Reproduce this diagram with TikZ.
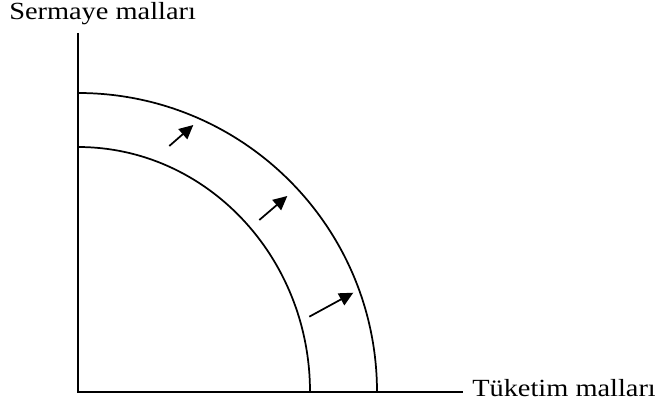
\documentclass[tikz,border=0pt]{standalone}
\usepackage{fontspec}
\setmainfont[FakeStretch=1.15]{Liberation Serif}
\usetikzlibrary{arrows.meta}
\begin{document}
\begin{tikzpicture}[x=0.75pt,y=0.75pt,
  axis/.style={line width=1.4pt},
  curve/.style={line width=1.3pt},
  shiftarrow/.style={line width=1.3pt,-{Triangle[length=10.5pt,width=10pt]}},
  lbl/.style={inner sep=0pt,font=\fontsize{18.5}{20}\selectfont}]
\useasboundingbox (0,0) rectangle (655,404);
\coordinate (O) at (78,12);
\coordinate (ytop) at (78,371);
\coordinate (xend) at (463,12);
\draw[axis] (ytop) -- (O) -- (xend);
\node[lbl,anchor=base west] (ylab) at (9,384) {Sermaye malları};
\node[lbl,anchor=base west] (xlab) at (472,8) {Tüketim malları};
\draw[curve] (78,311) arc[start angle=90,end angle=0,radius=299];
\draw[curve] (78,257) arc[start angle=90,end angle=0,x radius=232,y radius=245];
\coordinate (a1s) at (169.3,258); \coordinate (a1e) at (193.3,279);
\coordinate (a2s) at (259.3,184); \coordinate (a2e) at (287.3,208);
\coordinate (a3s) at (309.3,87.3); \coordinate (a3e) at (353.3,111.3);
\draw[shiftarrow] (a1s) -- (a1e);
\draw[shiftarrow] (a2s) -- (a2e);
\draw[shiftarrow] (a3s) -- (a3e);
\end{tikzpicture}
\end{document}
